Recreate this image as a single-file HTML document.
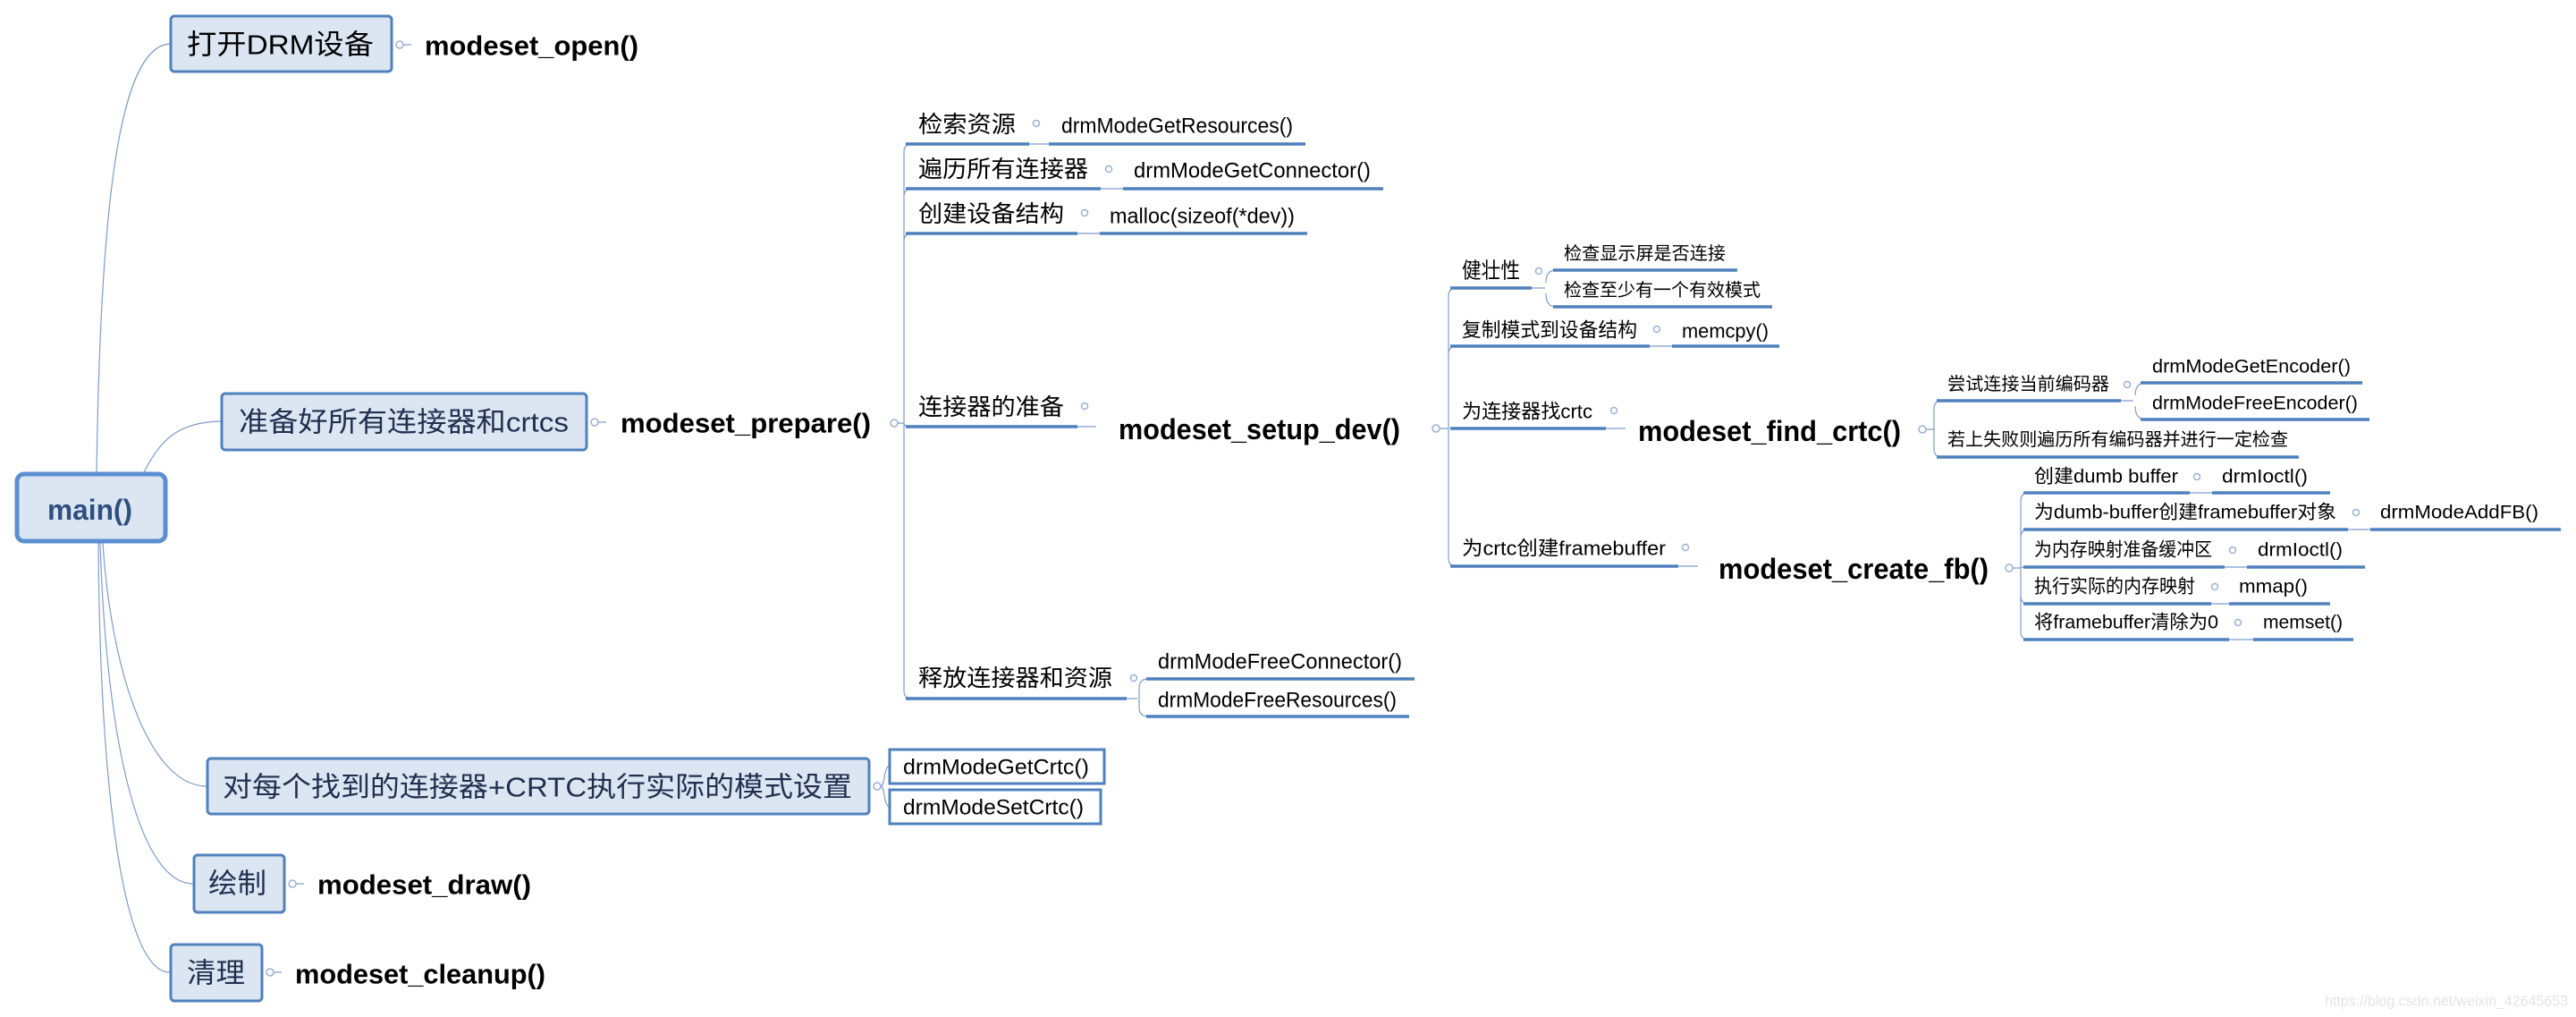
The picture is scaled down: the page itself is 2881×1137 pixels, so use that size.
<!DOCTYPE html>
<html><head><meta charset="utf-8"><style>
html,body{margin:0;padding:0;background:#fff;width:2881px;height:1137px;overflow:hidden}
svg text{font-family:"Liberation Sans","Noto Sans CJK SC",sans-serif;dominant-baseline:central}
.b{font-weight:bold;fill:#000}
.t{fill:#000}
.ul{stroke:#4f81bd;stroke-width:3.5;fill:none}
.ln{stroke:#7f9ccc;stroke-width:1.2;fill:none}
.dot{stroke:#9ab0d4;stroke-width:1.5;fill:#fff}
</style></head><body>
<svg width="2881" height="1137" viewBox="0 0 2881 1137" xmlns="http://www.w3.org/2000/svg">
<path class="ln" d="M108,530 C112,250 130,52 190,49"/>
<path class="ln" d="M160,530 C180,490 200,472 247,471"/>
<path class="ln" d="M115,607 C125,760 170,879 231,879"/>
<path class="ln" d="M112,607 C120,850 160,988 216,988"/>
<path class="ln" d="M110,607 C112,900 140,1087 190,1087"/>

<rect x="19" y="530" width="166" height="75" rx="8" fill="#dce6f2" stroke="#5b8fd1" stroke-width="5"/>
<text x="53" y="570" textLength="95" lengthAdjust="spacingAndGlyphs" font-size="32" font-weight="bold" fill="#2f4f7f">main()</text>

<rect x="191" y="18" width="247" height="62" rx="4" fill="#dce6f2" stroke="#4f81bd" stroke-width="3"/>
<text class="t" x="209" y="50" textLength="209" lengthAdjust="spacingAndGlyphs" font-size="31" fill="#1f2f4f">打开DRM设备</text>
<circle class="dot" cx="447" cy="50" r="4"/><path class="ln" d="M451,50 L460,50"/>
<text class="b" x="475" y="51" textLength="239" lengthAdjust="spacingAndGlyphs" font-size="31">modeset_open()</text>

<rect x="248" y="440" width="408" height="63" rx="4" fill="#dce6f2" stroke="#4f81bd" stroke-width="3"/>
<text x="267" y="472" textLength="369" lengthAdjust="spacingAndGlyphs" font-size="31" fill="#1f2f4f">准备好所有连接器和crtcs</text>
<circle class="dot" cx="665" cy="472" r="4"/><path class="ln" d="M669,472 L678,472"/>
<text class="b" x="694" y="473" textLength="280" lengthAdjust="spacingAndGlyphs" font-size="31">modeset_prepare()</text>
<circle class="dot" cx="1000" cy="473" r="4"/>

<rect x="232" y="848" width="740" height="62" rx="4" fill="#dce6f2" stroke="#4f81bd" stroke-width="3"/>
<text x="249" y="880" textLength="704" lengthAdjust="spacingAndGlyphs" font-size="31" fill="#1f2f4f">对每个找到的连接器+CRTC执行实际的模式设置</text>
<circle class="dot" cx="981" cy="879" r="4"/>
<path class="ln" d="M985,879 C990,879 988,857 995,856"/>
<path class="ln" d="M985,879 C990,879 988,902 995,902"/>
<rect x="995" y="838" width="240" height="38" fill="#fff" stroke="#4f81bd" stroke-width="3"/>
<text class="t" x="1010" y="858" textLength="208" lengthAdjust="spacingAndGlyphs" font-size="24">drmModeGetCrtc()</text>
<rect x="995" y="883" width="236" height="38" fill="#fff" stroke="#4f81bd" stroke-width="3"/>
<text class="t" x="1010" y="903" textLength="202" lengthAdjust="spacingAndGlyphs" font-size="24">drmModeSetCrtc()</text>

<rect x="217" y="956" width="101" height="64" rx="4" fill="#dce6f2" stroke="#4f81bd" stroke-width="3"/>
<text x="233" y="988" textLength="65" lengthAdjust="spacingAndGlyphs" font-size="31" fill="#1f2f4f">绘制</text>
<circle class="dot" cx="327" cy="988" r="4"/><path class="ln" d="M331,988 L340,988"/>
<text class="b" x="355" y="989" textLength="239" lengthAdjust="spacingAndGlyphs" font-size="31">modeset_draw()</text>

<rect x="191" y="1056" width="102" height="63" rx="4" fill="#dce6f2" stroke="#4f81bd" stroke-width="3"/>
<text x="209" y="1088" textLength="65" lengthAdjust="spacingAndGlyphs" font-size="31" fill="#1f2f4f">清理</text>
<circle class="dot" cx="302" cy="1087" r="4"/><path class="ln" d="M306,1087 L315,1087"/>
<text class="b" x="330" y="1089" textLength="280" lengthAdjust="spacingAndGlyphs" font-size="31">modeset_cleanup()</text>

<path class="ln" d="M1004,473 L1011,473 M1011,473 L1011,170 Q1011,161 1020,161 M1011,473 L1011,220 Q1011,211 1020,211 M1011,473 L1011,270 Q1011,261 1020,261 M1011,473 Q1011,477 1018,477 M1011,473 L1011,772 Q1011,781 1020,781"/>

<path class="ul" d="M1013,161 L1151,161 M1173,161 L1460,161"/><path class="ln" d="M1151,161 L1173,161"/>
<text class="t" x="1027" y="139" textLength="109" lengthAdjust="spacingAndGlyphs" font-size="26">检索资源</text>
<circle class="dot" cx="1159" cy="138" r="3.5"/>
<text class="t" x="1187" y="141" textLength="259" lengthAdjust="spacingAndGlyphs" font-size="24">drmModeGetResources()</text>

<path class="ul" d="M1013,211 L1231,211 M1256,211 L1547,211"/><path class="ln" d="M1231,211 L1256,211"/>
<text class="t" x="1027" y="189" textLength="190" lengthAdjust="spacingAndGlyphs" font-size="26">遍历所有连接器</text>
<circle class="dot" cx="1240" cy="189" r="3.5"/>
<text class="t" x="1268" y="191" textLength="265" lengthAdjust="spacingAndGlyphs" font-size="24">drmModeGetConnector()</text>

<path class="ul" d="M1013,261 L1205,261 M1230,261 L1462,261"/><path class="ln" d="M1205,261 L1230,261"/>
<text class="t" x="1027" y="239" textLength="163" lengthAdjust="spacingAndGlyphs" font-size="26">创建设备结构</text>
<circle class="dot" cx="1213" cy="238" r="3.5"/>
<text class="t" x="1241" y="242" textLength="207" lengthAdjust="spacingAndGlyphs" font-size="24">malloc(sizeof(*dev))</text>

<path class="ul" d="M1013,477 L1205,477"/><path class="ln" d="M1205,477 L1226,477"/>
<text class="t" x="1027" y="455" textLength="163" lengthAdjust="spacingAndGlyphs" font-size="26">连接器的准备</text>
<circle class="dot" cx="1213" cy="454" r="3.5"/>
<text class="b" x="1251" y="480" textLength="315" lengthAdjust="spacingAndGlyphs" font-size="32">modeset_setup_dev()</text>

<path class="ul" d="M1013,781 L1260,781"/>
<text class="t" x="1027" y="758" textLength="217" lengthAdjust="spacingAndGlyphs" font-size="26">释放连接器和资源</text>
<circle class="dot" cx="1268" cy="758" r="3.5"/>
<path class="ln" d="M1260,781 L1272,781 M1274,770 Q1274,759 1284,759 M1274,770 L1274,791 Q1274,801 1284,801"/>
<path class="ul" d="M1282,759 L1582,759 M1282,801 L1576,801"/>
<text class="t" x="1295" y="740" textLength="273" lengthAdjust="spacingAndGlyphs" font-size="24">drmModeFreeConnector()</text>
<text class="t" x="1295" y="783" textLength="267" lengthAdjust="spacingAndGlyphs" font-size="24">drmModeFreeResources()</text>

<circle class="dot" cx="1606" cy="479" r="4"/>
<path class="ln" d="M1610,479 L1620,479 M1620,479 L1620,331 Q1620,322 1629,322 M1620,479 L1620,396 Q1620,387 1629,387 M1620,479 L1620,624 Q1620,633 1629,633"/>

<path class="ul" d="M1622,322 L1713,322"/>
<text class="t" x="1635" y="303" textLength="65" lengthAdjust="spacingAndGlyphs" font-size="24">健壮性</text>
<circle class="dot" cx="1721" cy="303" r="3.5"/>
<path class="ln" d="M1713,322 L1728,322 M1729,316 Q1729,302 1740,302 M1729,328 Q1729,343 1740,343"/>
<path class="ul" d="M1737,302 L1943,302 M1737,343 L1982,343"/>
<text class="t" x="1749" y="284" textLength="181" lengthAdjust="spacingAndGlyphs" font-size="20">检查显示屏是否连接</text>
<text class="t" x="1749" y="325" textLength="220" lengthAdjust="spacingAndGlyphs" font-size="20">检查至少有一个有效模式</text>

<path class="ul" d="M1622,387 L1845,387 M1870,387 L1990,387"/><path class="ln" d="M1845,387 L1870,387"/>
<text class="t" x="1635" y="369" textLength="196" lengthAdjust="spacingAndGlyphs" font-size="22">复制模式到设备结构</text>
<circle class="dot" cx="1853" cy="368" r="3.5"/>
<text class="t" x="1881" y="370" textLength="97" lengthAdjust="spacingAndGlyphs" font-size="22">memcpy()</text>

<path class="ul" d="M1622,479 L1796,479"/><path class="ln" d="M1796,479 L1818,479"/>
<text class="t" x="1635" y="460" textLength="146" lengthAdjust="spacingAndGlyphs" font-size="22">为连接器找crtc</text>
<circle class="dot" cx="1805" cy="459" r="3.5"/>
<text class="b" x="1832" y="482" textLength="294" lengthAdjust="spacingAndGlyphs" font-size="32">modeset_find_crtc()</text>

<path class="ul" d="M1622,633 L1877,633"/><path class="ln" d="M1877,633 L1899,633"/>
<text class="t" x="1635" y="613" textLength="228" lengthAdjust="spacingAndGlyphs" font-size="22">为crtc创建framebuffer</text>
<circle class="dot" cx="1885" cy="612" r="3.5"/>
<text class="b" x="1922" y="636" textLength="302" lengthAdjust="spacingAndGlyphs" font-size="32">modeset_create_fb()</text>

<circle class="dot" cx="2150" cy="480" r="4"/>
<path class="ln" d="M2154,480 L2163,480 M2163,480 L2163,457 Q2163,448 2172,448 M2163,480 L2163,502 Q2163,511 2172,511"/>
<path class="ul" d="M2166,448 L2372,448 M2166,511 L2571,511"/>
<text class="t" x="2178" y="430" textLength="181" lengthAdjust="spacingAndGlyphs" font-size="20">尝试连接当前编码器</text>
<circle class="dot" cx="2379" cy="430" r="3.5"/>
<path class="ln" d="M2372,448 L2386,448 M2388,442 Q2388,428 2400,428 M2388,454 Q2388,469 2400,469"/>
<path class="ul" d="M2394,428 L2642,428 M2394,469 L2650,469"/>
<text class="t" x="2407" y="410" textLength="222" lengthAdjust="spacingAndGlyphs" font-size="21">drmModeGetEncoder()</text>
<text class="t" x="2407" y="451" textLength="230" lengthAdjust="spacingAndGlyphs" font-size="21">drmModeFreeEncoder()</text>
<text class="t" x="2178" y="492" textLength="381" lengthAdjust="spacingAndGlyphs" font-size="20">若上失败则遍历所有编码器并进行一定检查</text>

<circle class="dot" cx="2247" cy="635" r="4"/>
<path class="ln" d="M2251,635 L2260,635 M2260,635 L2260,560 Q2260,551 2269,551 M2260,635 L2260,601 Q2260,592 2269,592 M2260,635 Q2260,634 2267,634 M2260,635 L2260,666 Q2260,675 2269,675 M2260,635 L2260,706 Q2260,715 2269,715"/>

<path class="ul" d="M2263,551 L2449,551 M2474,551 L2606,551"/><path class="ln" d="M2449,551 L2474,551"/>
<text class="t" x="2275" y="533" textLength="161" lengthAdjust="spacingAndGlyphs" font-size="21">创建dumb buffer</text>
<circle class="dot" cx="2457" cy="533" r="3.5"/>
<text class="t" x="2485" y="533" textLength="96" lengthAdjust="spacingAndGlyphs" font-size="21">drmIoctl()</text>

<path class="ul" d="M2263,592 L2626,592 M2651,592 L2864,592"/><path class="ln" d="M2626,592 L2651,592"/>
<text class="t" x="2275" y="573" textLength="338" lengthAdjust="spacingAndGlyphs" font-size="21">为dumb-buffer创建framebuffer对象</text>
<circle class="dot" cx="2635" cy="573" r="3.5"/>
<text class="t" x="2662" y="573" textLength="177" lengthAdjust="spacingAndGlyphs" font-size="21">drmModeAddFB()</text>

<path class="ul" d="M2263,634 L2488,634 M2513,634 L2645,634"/><path class="ln" d="M2488,634 L2513,634"/>
<text class="t" x="2275" y="615" textLength="199" lengthAdjust="spacingAndGlyphs" font-size="21">为内存映射准备缓冲区</text>
<circle class="dot" cx="2497" cy="615" r="3.5"/>
<text class="t" x="2525" y="615" textLength="95" lengthAdjust="spacingAndGlyphs" font-size="21">drmIoctl()</text>

<path class="ul" d="M2263,675 L2473,675 M2493,675 L2606,675"/><path class="ln" d="M2473,675 L2493,675"/>
<text class="t" x="2275" y="656" textLength="180" lengthAdjust="spacingAndGlyphs" font-size="21">执行实际的内存映射</text>
<circle class="dot" cx="2477" cy="656" r="3.5"/>
<text class="t" x="2504" y="656" textLength="77" lengthAdjust="spacingAndGlyphs" font-size="21">mmap()</text>

<path class="ul" d="M2263,715 L2493,715 M2520,715 L2632,715"/><path class="ln" d="M2493,715 L2520,715"/>
<text class="t" x="2275" y="696" textLength="206" lengthAdjust="spacingAndGlyphs" font-size="21">将framebuffer清除为0</text>
<circle class="dot" cx="2503" cy="696" r="3.5"/>
<text class="t" x="2531" y="696" textLength="89" lengthAdjust="spacingAndGlyphs" font-size="21">memset()</text>

<text x="2600" y="1119" textLength="272" lengthAdjust="spacingAndGlyphs" font-size="17" fill="#e4e4e4">https://blog.csdn.net/weixin_42645653</text>
</svg>
</body></html>
